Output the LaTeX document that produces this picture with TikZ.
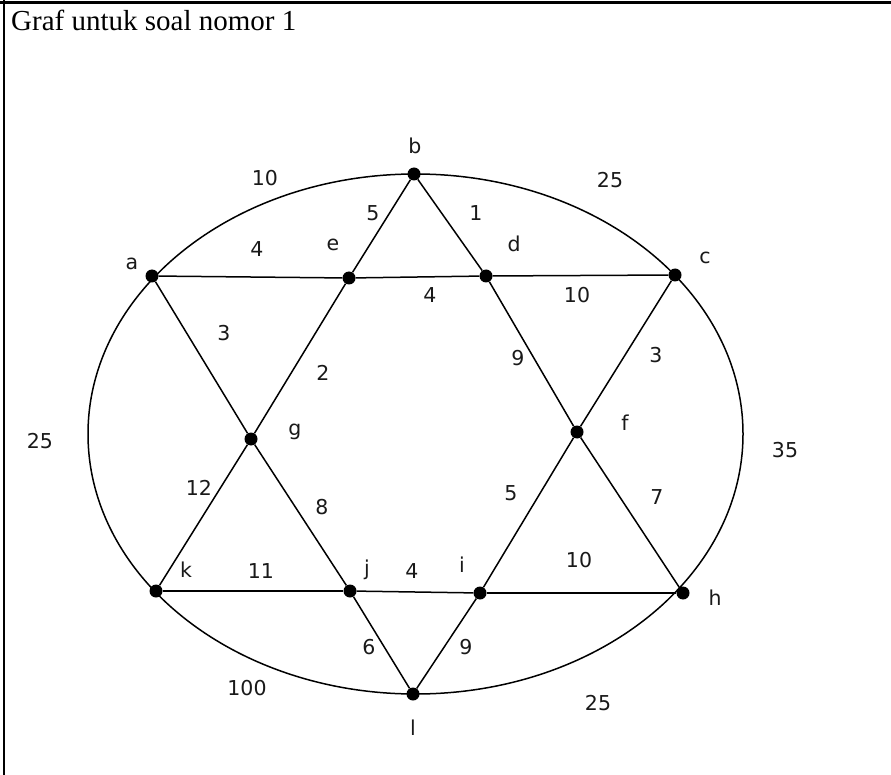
\documentclass[tikz,border=0pt]{standalone}
\usepackage{fontspec}
\setmainfont{Liberation Serif}
\newfontfamily\lblfont{DejaVu Sans}
\begin{document}
\begin{tikzpicture}[x=1pt,y=-1pt,
 vtx/.style={circle,fill=black,inner sep=0pt,minimum size=13pt},
 edge/.style={draw=black,line width=1.5pt},
 frame/.style={draw=black,line width=3pt},
 lbl/.style={font=\lblfont\fontsize{20.5}{20.5}\selectfont,inner sep=0pt,text=black!90},
 title/.style={font=\fontsize{29}{29}\selectfont,inner sep=0pt,anchor=base west}
]
\useasboundingbox (0,0) rectangle (891,775);
% frame
\coordinate (tl) at (0,3);
\coordinate (tr) at (891,3);
\coordinate (lt) at (4,0);
\coordinate (lb) at (4,775);
\draw[frame] (tl) -- (tr);
\draw[frame,line width=2.5pt] (lt) -- (lb);
\node[title] (ttl) at (11,31) {Graf untuk soal nomor 1};
% outer ellipse
\coordinate (ctr) at (415.5,434);
\draw[edge] (ctr) ellipse [x radius=327.5, y radius=260];
% vertices
\node[vtx] (b) at (414,174) {};
\node[vtx] (a) at (152,276) {};
\node[vtx] (e) at (349,278) {};
\node[vtx] (d) at (486,276) {};
\node[vtx] (c) at (675,275) {};
\node[vtx] (g) at (251,439) {};
\node[vtx] (f) at (577,432) {};
\node[vtx] (k) at (156,591) {};
\node[vtx] (j) at (350,591) {};
\node[vtx] (i) at (480,593) {};
\node[vtx] (h) at (683,593) {};
\node[vtx] (l) at (413,694) {};
% edges
\draw[edge] (a) -- (e);
\draw[edge] (e) -- (d);
\draw[edge] (d) -- (c);
\draw[edge] (b) -- (e);
\draw[edge] (e) -- (g);
\draw[edge] (g) -- (k);
\draw[edge] (b) -- (d);
\draw[edge] (d) -- (f);
\draw[edge] (f) -- (h);
\draw[edge] (a) -- (g);
\draw[edge] (g) -- (j);
\draw[edge] (j) -- (l);
\draw[edge] (c) -- (f);
\draw[edge] (f) -- (i);
\draw[edge] (i) -- (l);
\draw[edge] (k) -- (j);
\draw[edge] (j) -- (i);
\draw[edge] (i) -- (h);
% vertex names
\node[lbl] (nb) at (415,146) {b};
\node[lbl] (na) at (132,264) {a};
\node[lbl] (ne) at (333,245) {e};
\node[lbl] (nd) at (514,244) {d};
\node[lbl] (nc) at (705,258) {c};
\node[lbl] (ng) at (295,432) {g};
\node[lbl] (nf) at (625,423) {f};
\node[lbl] (nk) at (186,570) {k};
\node[lbl] (nj) at (367,570) {j};
\node[lbl] (ni) at (462,565) {i};
\node[lbl] (nh) at (715,598) {h};
\node[lbl] (nl) at (413,728) {l};
% weights
\node[lbl] (w1) at (265,178) {10};
\node[lbl] (w2) at (610,180) {25};
\node[lbl] (w3) at (373,213) {5};
\node[lbl] (w4) at (476,213) {1};
\node[lbl] (w5) at (257,249) {4};
\node[lbl] (w6) at (430,295) {4};
\node[lbl] (w7) at (577,295) {10};
\node[lbl] (w8) at (224,333) {3};
\node[lbl] (w9) at (323,373) {2};
\node[lbl] (w10) at (518,358) {9};
\node[lbl] (w11) at (656,355) {3};
\node[lbl] (w12) at (40,441) {25};
\node[lbl] (w13) at (785,450) {35};
\node[lbl] (w14) at (199,488) {12};
\node[lbl] (w15) at (322,507) {8};
\node[lbl] (w16) at (511,493) {5};
\node[lbl] (w17) at (657,497) {7};
\node[lbl] (w18) at (261,571) {11};
\node[lbl] (w19) at (412,571) {4};
\node[lbl] (w20) at (579,560) {10};
\node[lbl] (w21) at (369,647) {6};
\node[lbl] (w22) at (466,647) {9};
\node[lbl] (w23) at (247,688) {100};
\node[lbl] (w24) at (598,703) {25};
\end{tikzpicture}
\end{document}
